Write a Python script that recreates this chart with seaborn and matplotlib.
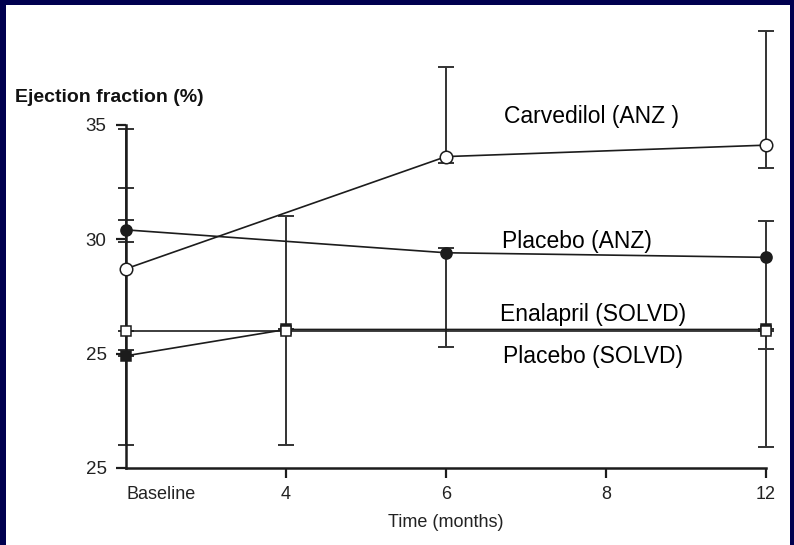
import numpy as np
import pandas as pd
import seaborn as sns
import matplotlib.pyplot as plt
from matplotlib.patches import Rectangle

# timepoints and axis text
time_labels = ["Baseline", "4", "6", "8", "12"]
ytick_values = [35, 30, 25, 20]
ytick_labels = ["35", "30", "25", "25"]

# mean ejection fraction (%) per timepoint, nan = not measured
carvedilol = [28.7, np.nan, 33.6, np.nan, 34.1]
carvedilol_lo = [21.0, np.nan, 33.3, np.nan, 33.1]
carvedilol_hi = [34.8, np.nan, 37.5, np.nan, 39.1]

placebo_anz = [30.4, np.nan, 29.4, np.nan, 29.2]
placebo_anz_lo = [29.85, np.nan, 25.3, np.nan, 25.2]
placebo_anz_hi = [30.85, np.nan, 29.6, np.nan, 30.8]

enalapril = [26.0, 26.0, np.nan, np.nan, 26.0]
enalapril_lo = [26.0, 21.0, np.nan, np.nan, 20.9]
enalapril_hi = [32.25, 31.0, np.nan, np.nan, 26.0]

placebo_solvd = [24.9, 26.05, np.nan, np.nan, 26.05]
placebo_solvd_lo = [24.9, 26.05, np.nan, np.nan, 26.05]
placebo_solvd_hi = [25.15, 26.05, np.nan, np.nan, 26.05]

series = {
    "Carvedilol (ANZ )": (carvedilol, carvedilol_lo, carvedilol_hi),
    "Placebo (ANZ)": (placebo_anz, placebo_anz_lo, placebo_anz_hi),
    "Enalapril (SOLVD)": (enalapril, enalapril_lo, enalapril_hi),
    "Placebo (SOLVD)": (placebo_solvd, placebo_solvd_lo, placebo_solvd_hi),
}

rows = []
for name, (mean, lo, hi) in series.items():
    for i, t in enumerate(time_labels):
        rows.append({"group": name, "time": t, "pos": i,
                     "ef": mean[i], "lo": lo[i], "hi": hi[i]})
df = pd.DataFrame(rows).dropna(subset=["ef"])

sns.set_theme(style="white")
plt.rcParams["font.family"] = ["Liberation Sans", "DejaVu Sans"]

navy = "#00004f"
ink = "#1c1c1c"

fig = plt.figure(figsize=(7.94, 5.45), dpi=100, facecolor=navy)
fig.add_artist(Rectangle((6 / 794, 0), (794 - 10) / 794, (545 - 5) / 545,
                         transform=fig.transFigure, facecolor="white",
                         edgecolor="none", zorder=-5))
ax = fig.add_axes([110 / 794, 77 / 545, 672 / 794, 446.5 / 545])
ax.set_facecolor("none")

# error bars first, markers on top
for name in series:
    d = df[df["group"] == name].dropna(subset=["lo"])
    yerr = np.vstack([d["ef"] - d["lo"], d["hi"] - d["ef"]])
    ax.errorbar(d["pos"], d["ef"], yerr=yerr, fmt="none", ecolor="#333333",
                elinewidth=1.4, capsize=5.5, capthick=1.4, zorder=2, clip_on=False)

styles = {
    "Carvedilol (ANZ )": dict(marker="o", markersize=9, markerfacecolor="white", zorder=5),
    "Placebo (ANZ)": dict(marker="o", markersize=8, markerfacecolor=ink, zorder=4),
    "Enalapril (SOLVD)": dict(marker="s", markersize=7, markerfacecolor="white", zorder=5),
    "Placebo (SOLVD)": dict(marker="s", markersize=7, markerfacecolor=ink, zorder=4),
}
for name, st in styles.items():
    sns.lineplot(data=df[df["group"] == name], x="pos", y="ef", ax=ax,
                 color=ink, linewidth=1.2, markeredgecolor=ink,
                 markeredgewidth=1.1, clip_on=False, **st)

# curve labels
ax.text(2.36, 35.35, "Carvedilol (ANZ )", fontsize=16.5, color="black", va="center")
ax.text(2.35, 29.9, "Placebo (ANZ)", fontsize=16.5, color="black", va="center")
ax.text(2.92, 26.7, "Enalapril (SOLVD)", fontsize=16.5, color="black", va="center", ha="center")
ax.text(2.92, 24.87, "Placebo (SOLVD)", fontsize=16.5, color="black", va="center", ha="center")

ax.set_xlim(-0.1, 4.1)
ax.set_ylim(20, 39.5)
ax.spines["top"].set_visible(False)
ax.spines["right"].set_visible(False)
ax.spines["left"].set_position(("data", 0))
ax.spines["left"].set_bounds(20, 35)
ax.spines["bottom"].set_bounds(0, 4)
for s in ("left", "bottom"):
    ax.spines[s].set_color(ink)
    ax.spines[s].set_linewidth(1.8)

ax.set_xticks(range(len(time_labels)))
ax.set_xticklabels(time_labels, fontsize=13, color="#222222")
ax.get_xticklabels()[0].set_horizontalalignment("left")
ax.set_yticks(ytick_values)
ax.set_yticklabels(ytick_labels, fontsize=13.5, color="#222222")
ax.tick_params(axis="x", direction="out", length=7, width=1.6, color=ink, pad=6, bottom=True)
ax.tick_params(axis="y", direction="out", length=7, width=1.6, color=ink, pad=7, left=True)
ax.xaxis.get_major_ticks()[0].tick1line.set_visible(False)

ax.set_xlabel("Time (months)", fontsize=13, color="#222222", labelpad=8)
ax.set_ylabel("")

fig.text(15 / 794, 1 - 98 / 545, "Ejection fraction (%)", fontsize=14,
         fontweight="bold", color="#111111", va="center", ha="left")

fig.savefig("out.png", dpi=100, facecolor=navy)
